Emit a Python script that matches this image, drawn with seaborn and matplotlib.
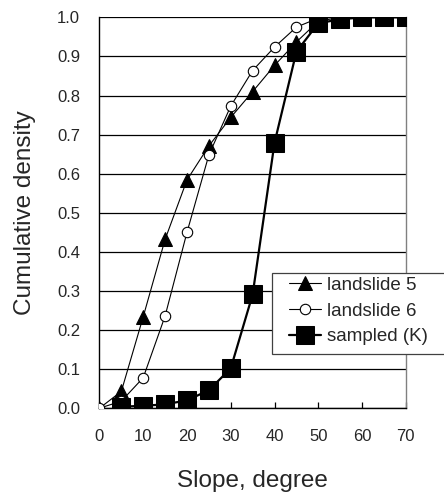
import matplotlib
matplotlib.use("Agg")
import matplotlib.pyplot as plt
from matplotlib.patches import Rectangle
import seaborn as sns
import pandas as pd

slope = [0, 5, 10, 15, 20, 25, 30, 35, 40, 45, 50, 55, 60, 65, 70]
landslide5 = [0.0, 0.043, 0.234, 0.432, 0.584, 0.671, 0.744, 0.81, 0.877, 0.937, 0.99, 1.0, 1.0, 1.0, 1.0]
landslide6 = [0.0, 0.018, 0.078, 0.236, 0.45, 0.648, 0.773, 0.864, 0.924, 0.975, 0.998, 1.0, 1.0, 1.0, 1.0]
sampled_slope = [5, 10, 15, 20, 25, 30, 35, 40, 45, 50, 55, 60, 65, 70]
sampled = [0.004, 0.006, 0.01, 0.02, 0.046, 0.102, 0.291, 0.679, 0.912, 0.985, 0.995, 1.0, 1.0, 1.0]
yticks = [0.0, 0.1, 0.2, 0.3, 0.4, 0.5, 0.6, 0.7, 0.8, 0.9, 1.0]
xticks = [0, 10, 20, 30, 40, 50, 60, 70]

sns.set_style("white")
plt.rcParams['font.family'] = ['Liberation Sans', 'DejaVu Sans']

fig = plt.figure(figsize=(4.44, 4.96), dpi=100)
ax = fig.add_axes([0.224, 0.177, 0.690, 0.788])

df5 = pd.DataFrame({"x": slope, "y": landslide5})
df6 = pd.DataFrame({"x": slope, "y": landslide6})
dfs = pd.DataFrame({"x": sampled_slope, "y": sampled})

sns.lineplot(data=df5, x="x", y="y", ax=ax, color="black", lw=0.8, marker="^",
             markersize=10, markerfacecolor="black", markeredgecolor="black",
             label="landslide 5", zorder=3)
sns.lineplot(data=df6, x="x", y="y", ax=ax, color="black", lw=0.8, marker="o",
             markersize=7.5, markerfacecolor="white", markeredgecolor="black",
             markeredgewidth=0.8, label="landslide 6", zorder=4)
sns.lineplot(data=dfs, x="x", y="y", ax=ax, color="black", lw=1.6, marker="s",
             markersize=12.5, markerfacecolor="black", markeredgecolor="black",
             label="sampled (K)", zorder=5)

ax.set_xlim(0, 70)
ax.set_ylim(0, 1.0)
ax.set_xticks(xticks)
ax.set_yticks(yticks)
ax.set_xticklabels([str(t) for t in xticks])
ax.set_yticklabels([f"{t:.1f}" for t in yticks])
ax.yaxis.grid(True, color="black", lw=0.9)
ax.xaxis.grid(False)
ax.set_axisbelow(True)

for s in ["left", "bottom"]:
    ax.spines[s].set_color("black")
    ax.spines[s].set_linewidth(1.0)
ax.spines["top"].set_visible(False)
ax.spines["right"].set_color("#808080")
ax.spines["right"].set_linewidth(1.0)

ax.tick_params(axis="x", direction="in", length=4, width=0.9, color="black",
               labelsize=12, pad=15, bottom=True)
ax.tick_params(axis="y", length=0, labelsize=12, pad=14, left=False)

ax.set_xlabel("Slope, degree", fontsize=17.5, labelpad=19)
ax.set_ylabel("Cumulative density", fontsize=17.5, labelpad=15)

# legend frame (extends past the right edge of the figure, as in the original)
frame = Rectangle((0.563, 0.138), 0.8, 0.208, transform=ax.transAxes,
                  facecolor="white", edgecolor="#404040", lw=0.9,
                  clip_on=False, zorder=8)
ax.add_patch(frame)

leg = ax.legend(loc="upper left", bbox_to_anchor=(0.618, 0.336), fontsize=13.5,
                frameon=False, handlelength=1.7, handletextpad=0.32,
                borderpad=0.0, labelspacing=0.45, borderaxespad=0)
leg.set_zorder(9)

fig.savefig("out.png", dpi=100)
